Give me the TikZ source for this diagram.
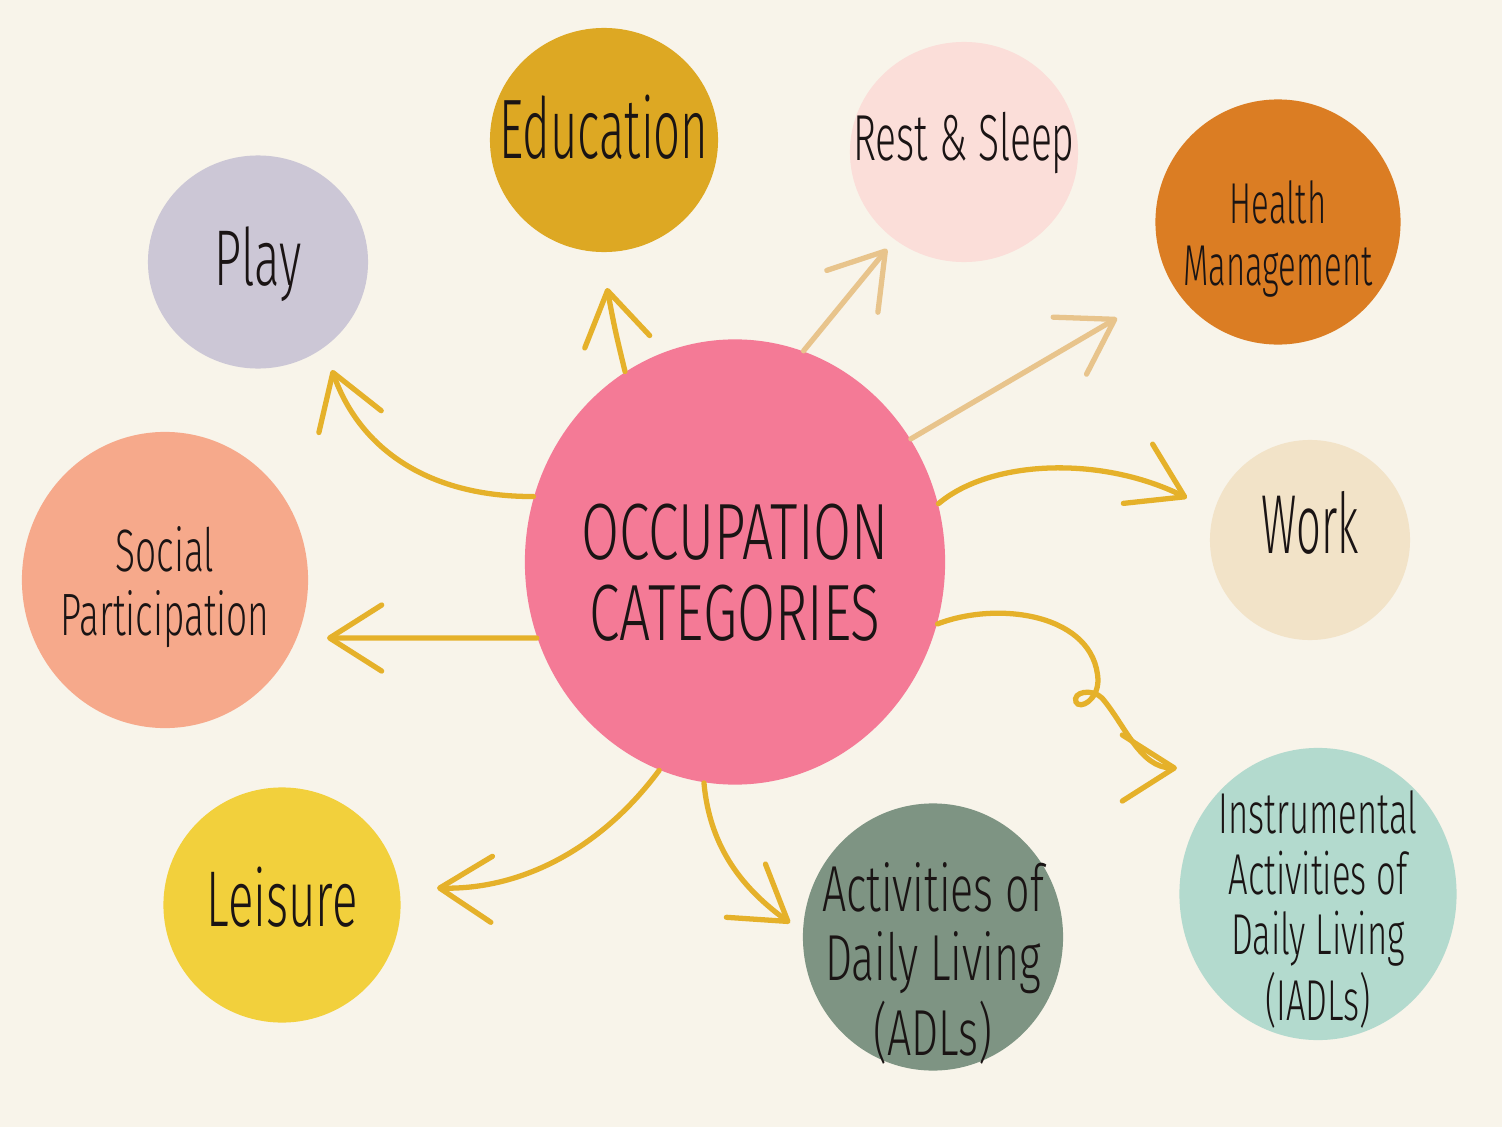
\documentclass[tikz,border=0pt]{standalone}
\usepackage{fontspec}
\setmainfont{Fira Sans}[UprightFont=* Light]
\usepackage{graphicx}
\usetikzlibrary{shapes.geometric, arrows.meta}

% Colours
\definecolor{bgcream}{HTML}{F8F4EA}
\definecolor{inkblack}{HTML}{1A1414}
\definecolor{occpink}{HTML}{F47A96}
\definecolor{edugold}{HTML}{DDA823}
\definecolor{restpink}{HTML}{FBDED9}
\definecolor{healthorange}{HTML}{DB7D23}
\definecolor{playlilac}{HTML}{CCC7D6}
\definecolor{workbeige}{HTML}{F2E3C8}
\definecolor{socialpeach}{HTML}{F6A98B}
\definecolor{leisureyellow}{HTML}{F2D03C}
\definecolor{adlgreen}{HTML}{7E9483}
\definecolor{iadlmint}{HTML}{B3DACE}
\definecolor{arrowyellow}{HTML}{E5B12A}
\definecolor{arrowtan}{HTML}{E8C48C}

% narrow hand lettering
\newcommand{\hand}[2][0.6]{\scalebox{#1}[1]{\begin{tabular}{@{}c@{}}#2\end{tabular}}}

\begin{document}
\begin{tikzpicture}[x=0.01cm, y=-0.01cm,
    blob/.style={ellipse, inner sep=0pt, fill=#1},
    fs/.style 2 args={font=\fontsize{#1}{#2}\selectfont, text=inkblack},
    link/.style={line width=1.5pt, line cap=round, arrowyellow,
        -{Straight Barb[length=5.2mm, width=6.6mm, round]}},
    tanlink/.style={link, arrowtan}]

    % Background
    \fill[bgcream] (0,0) rectangle (1502,1127);

    % Centre
    \node[blob=occpink, minimum width=4.2cm, minimum height=4.45cm,
        label={[fs={22.7}{23}, yshift=-0.22cm]center:{\hand[0.69]{OCCUPATION\\CATEGORIES}}}]
        (occ) at (735,562) {};

    % Categories
    \node[blob=edugold, minimum width=2.28cm, minimum height=2.24cm,
        label={[fs={24}{25}, yshift=0cm]center:{\hand[0.56]{Education}}}]
        (edu) at (604,140) {};
    \node[blob=restpink, minimum width=2.28cm, minimum height=2.2cm,
        label={[fs={18.5}{19}, yshift=0.06cm]center:{\hand{Rest \& Sleep}}}]
        (rest) at (964,152) {};
    \node[blob=healthorange, minimum width=2.45cm, minimum height=2.45cm,
        label={[fs={16.4}{17.5}, yshift=-0.2cm]center:{\hand[0.57]{Health\\Management}}}]
        (health) at (1278,222) {};
    \node[blob=playlilac, minimum width=2.2cm, minimum height=2.13cm,
        label={[fs={22.5}{23}, yshift=-0.06cm]center:{\hand{Play}}}]
        (play) at (258,262) {};
    \node[blob=workbeige, minimum width=2cm, minimum height=2cm,
        label={[fs={23.8}{24}, yshift=0.05cm]center:{\hand[0.52]{Work}}}]
        (work) at (1310,540) {};
    \node[blob=socialpeach, minimum width=2.86cm, minimum height=2.96cm,
        label={[fs={17}{17.5}, yshift=-0.1cm]center:{\hand[0.62]{Social\\Participation}}}]
        (social) at (165,580) {};
    \node[blob=leisureyellow, minimum width=2.37cm, minimum height=2.35cm,
        label={[fs={22.5}{23}, yshift=-0.04cm]center:{\hand{Leisure}}}]
        (leisure) at (282,905) {};
    \node[blob=adlgreen, minimum width=2.6cm, minimum height=2.67cm,
        label={[fs={18.5}{19.4}, yshift=-0.32cm]center:{\hand[0.66]{Activities of\\Daily Living\\(ADLs)}}}]
        (adl) at (933,937) {};
    \node[blob=iadlmint, minimum width=2.77cm, minimum height=2.92cm,
        label={[fs={16.4}{16.2}, yshift=-0.2cm]center:{\hand{Instrumental\\Activities of\\Daily Living\\(IADLs)}}}]
        (iadl) at (1318,894) {};

    % Arrow ends
    \coordinate (playtip) at (332,370);
    \coordinate (edutip) at (607,288);
    \coordinate (resttip) at (887,249);
    \coordinate (healthtip) at (1117,318);
    \coordinate (worktip) at (1187,498);
    \coordinate (socialtip) at (327,638);
    \coordinate (leisuretip) at (437,888);
    \coordinate (adltip) at (790,923);
    \coordinate (iadltip) at (1177,768);

    % Arrows
    \draw[link] (occ.162) .. controls (430,497) and (360,450) .. (playtip);
    \draw[link] (occ.120) .. controls (615,330) .. (edutip);
    \draw[tanlink] (occ.72) -- (resttip);
    \draw[tanlink] (occ.35) -- (healthtip);
    \draw[link] (occ.16) .. controls (990,460) and (1100,455) .. (worktip);
    \draw[link] (occ.201) -- (socialtip);
    \draw[link] (occ.250) .. controls (600,850) and (520,890) .. (leisuretip);
    \draw[link] (occ.262) .. controls (710,850) and (745,890) .. (adltip);
    \draw[link] (occ.343) .. controls (1000,600) and (1095,615) .. (1098,680)
        .. controls (1098,700) and (1080,710) .. (1076,702)
        .. controls (1072,692) and (1092,688) .. (1102,698)
        .. controls (1125,725) and (1140,768) .. (iadltip);

\end{tikzpicture}
\end{document}
